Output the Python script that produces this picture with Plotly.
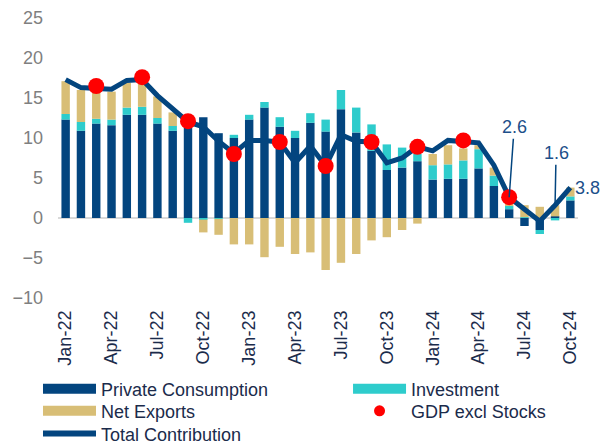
import plotly.graph_objects as go

months = [
    "Jan-22", "Feb-22", "Mar-22", "Apr-22", "May-22", "Jun-22",
    "Jul-22", "Aug-22", "Sep-22", "Oct-22", "Nov-22", "Dec-22",
    "Jan-23", "Feb-23", "Mar-23", "Apr-23", "May-23", "Jun-23",
    "Jul-23", "Aug-23", "Sep-23", "Oct-23", "Nov-23", "Dec-23",
    "Jan-24", "Feb-24", "Mar-24", "Apr-24", "May-24", "Jun-24",
    "Jul-24", "Aug-24", "Sep-24", "Oct-24",
]

private_consumption = [
    12.3, 10.9, 11.8, 11.6, 12.9, 12.9, 11.8, 10.9, 11.8, 12.6, 10.6, 10.0,
    12.3, 13.8, 11.4, 10.0, 11.9, 10.8, 13.6, 10.7, 8.4, 6.0, 6.3, 7.1,
    4.8, 4.9, 4.9, 6.2, 4.0, 1.1, -1.0, -1.5, 0.2, 2.2,
]
investment = [
    0.7, 1.1, 0.6, 0.7, 0.9, 1.0, 0.7, 0.6, -0.6, -0.2, -0.1, 0.4,
    0.6, 0.7, 1.2, 0.9, 1.2, 1.5, 2.4, 3.1, 3.3, 3.2, 2.5, 0.9,
    1.8, 1.8, 2.3, 2.4, 1.3, 0.4, 0.1, -0.5, -0.3, 0.5,
]
net_exports = [
    4.1, 4.0, 3.6, 3.5, 3.1, 3.4, 2.7, 1.7, 0.3, -1.6, -2.0, -3.3,
    -3.3, -4.9, -3.6, -4.5, -4.3, -6.5, -5.6, -4.5, -2.8, -2.4, -1.5, -0.7,
    1.4, 2.4, 1.5, 0.5, 1.0, 0.6, 1.5, 1.4, 1.4, 1.1,
]
total_contribution = [
    17.3, 16.3, 16.2, 16.1, 17.2, 17.3, 15.3, 13.6, 12.0, 11.4, 9.6, 8.1,
    9.7, 9.7, 9.5, 6.9, 9.0, 6.5, 10.4, 9.6, 9.5, 6.9, 7.5, 8.9,
    8.4, 9.7, 9.6, 9.4, 6.6, 2.6, 1.1, -0.4, 1.6, 3.8,
]

gdp_months = ["Mar-22", "Jun-22", "Sep-22", "Dec-22", "Mar-23",
              "Jun-23", "Sep-23", "Dec-23", "Mar-24", "Jun-24"]
gdp_excl_stocks = [16.5, 17.6, 12.1, 8.0, 9.5, 6.5, 9.5, 8.9, 9.7, 2.6]

tick_labels = months[::3]

NAVY = "#03457f"
TURQ = "#2ecccc"
TAN = "#d8be76"
RED = "#ff0000"
TEXT = "#1b2b4b"
LABEL = "#1d4f8a"

fig = go.Figure()

for name, vals, color in [
    ("Private Consumption", private_consumption, NAVY),
    ("Investment", investment, TURQ),
    ("Net Exports", net_exports, TAN),
]:
    fig.add_trace(go.Bar(
        x=months, y=vals, name=name, marker=dict(color=color, line_width=0),
        showlegend=False,
    ))

fig.add_trace(go.Scatter(
    x=months, y=total_contribution, mode="lines", name="Total Contribution",
    line=dict(color=NAVY, width=5), showlegend=False,
))
fig.add_trace(go.Scatter(
    x=gdp_months, y=gdp_excl_stocks, mode="markers", name="GDP excl Stocks",
    marker=dict(color=RED, size=16), showlegend=False,
))

# legend-only entries (one small legend each) to get the 2-column key
legend_items = [
    ("Private Consumption", "lines", NAVY, "legend"),
    ("Investment", "lines", TURQ, "legend2"),
    ("Net Exports", "lines", TAN, "legend3"),
    ("GDP excl Stocks", "markers", RED, "legend4"),
    ("Total Contribution", "lines", NAVY, "legend5"),
]
for name, mode, color, leg in legend_items:
    if mode == "lines":
        w = 6 if name == "Total Contribution" else 10
        fig.add_trace(go.Scatter(x=[None], y=[None], mode="lines", name=name,
                                 line=dict(color=color, width=w), legend=leg))
    else:
        fig.add_trace(go.Scatter(x=[None], y=[None], mode="markers", name=name,
                                 marker=dict(color=color, size=11), legend=leg))

fig.add_annotation(x="Jun-24", y=2.6, text="2.6", showarrow=True, arrowhead=0,
                   arrowwidth=1.5, arrowcolor=NAVY, ax=5, ay=-70,
                   font=dict(size=18, color=LABEL))
fig.add_annotation(x="Sep-24", y=1.6, text="1.6", showarrow=True, arrowhead=0,
                   arrowwidth=1.5, arrowcolor=NAVY, ax=1, ay=-52,
                   font=dict(size=18, color=LABEL))
fig.add_annotation(x="Oct-24", y=3.8, text="3.8", showarrow=False,
                   xanchor="left", xshift=3,
                   font=dict(size=18, color=LABEL))

fig.update_xaxes(
    type="category", categoryorder="array", categoryarray=months,
    tickmode="array", tickvals=tick_labels, ticktext=tick_labels,
    tickangle=-90, showgrid=False, showline=False, ticks="",
    ticklabelstandoff=8, tickfont=dict(size=18, color=TEXT),
    range=[-0.5, len(months) - 0.5],
)
fig.update_yaxes(
    range=[-10, 25], dtick=5, showgrid=False, showline=False,
    zeroline=True, zerolinecolor="#d9d9d9", zerolinewidth=1.5,
    tickfont=dict(size=18, color="#7f7f7f"), ticklabelstandoff=14,
)

# the page body has an 8px margin, so margins are trimmed by 8px on top/left
leg_style = dict(
    xref="container", yref="container", xanchor="left", yanchor="middle",
    itemwidth=53, font=dict(size=18, color=TEXT), bgcolor="rgba(0,0,0,0)",
)
fig.update_layout(
    width=616, height=444,
    margin=dict(l=50, r=46, t=10, b=154, autoexpand=False),
    barmode="relative", bargap=0.45,
    plot_bgcolor="white", paper_bgcolor="white",
    font=dict(family="Arial, Liberation Sans, sans-serif", size=18, color=TEXT),
    legend=dict(x=0.0487, y=0.142, **leg_style),
    legend2=dict(x=0.552, y=0.142, **leg_style),
    legend3=dict(x=0.0487, y=0.092, **leg_style),
    legend4=dict(x=0.552, y=0.092, **leg_style),
    legend5=dict(x=0.0487, y=0.041, **leg_style),
)

fig.write_html("out.html")
